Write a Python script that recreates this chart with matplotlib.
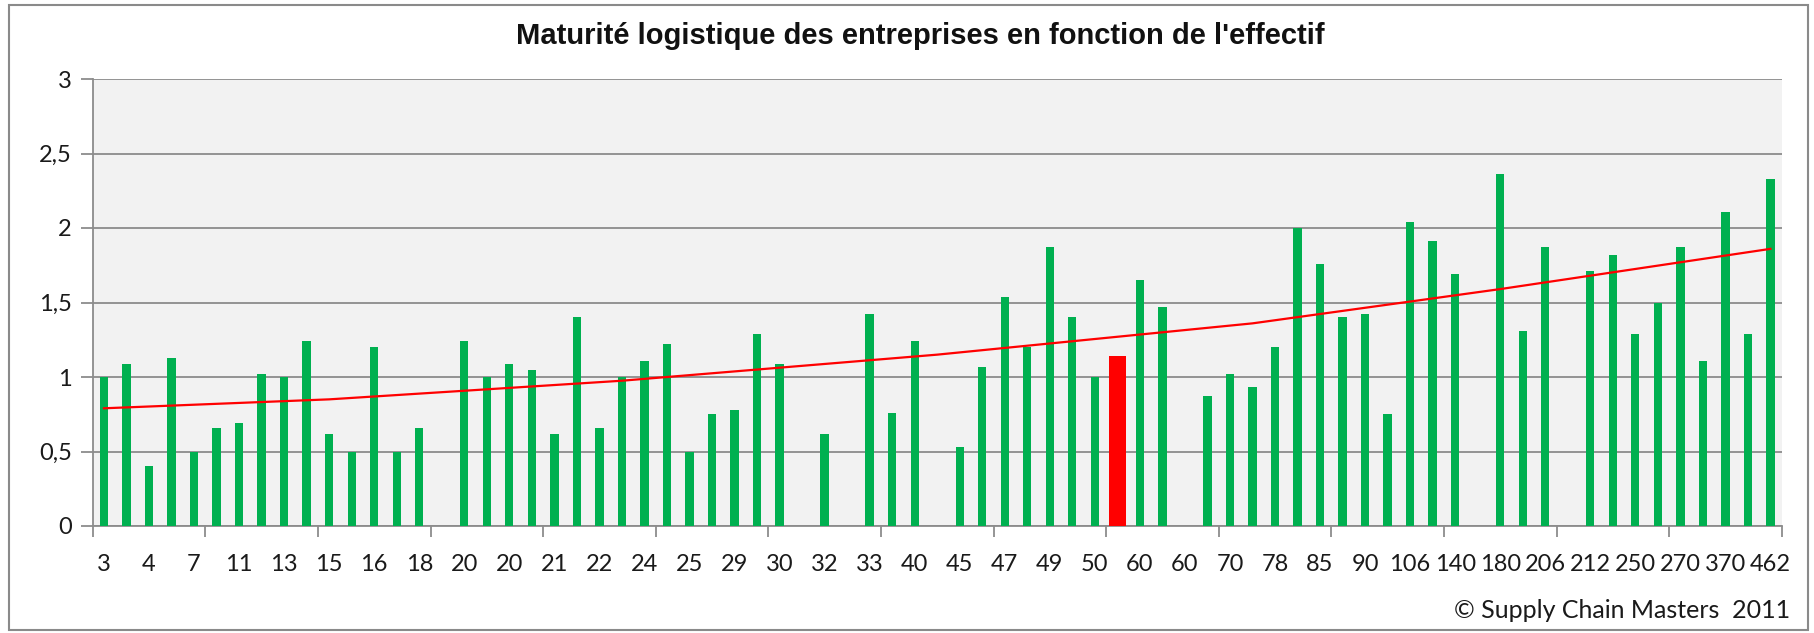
import numpy as np
import matplotlib
matplotlib.use("Agg")
import matplotlib.pyplot as plt
from matplotlib.patches import Rectangle
from matplotlib.ticker import FixedLocator, FuncFormatter

# ---------------- data ----------------
title = "Maturité logistique des entreprises en fonction de l'effectif"
credit = "© Supply Chain Masters  2011"

# label shown under every second category (effectif)
tick_labels = ["3", "4", "7", "11", "13", "15", "16", "18", "20", "20",
               "21", "22", "24", "25", "29", "30", "32", "33", "40", "45",
               "47", "49", "50", "60", "60", "70", "78", "85", "90", "106",
               "140", "180", "206", "212", "250", "270", "370", "462"]

# maturity score for each of the 75 companies (None = no bar)
maturity = [1.00, 1.09, 0.40, 1.13, 0.50, 0.66, 0.69, 1.02, 1.00, 1.24,
            0.62, 0.50, 1.20, 0.50, 0.66, None, 1.24, 1.00, 1.09, 1.05,
            0.62, 1.40, 0.66, 1.00, 1.11, 1.22, 0.50, 0.75, 0.78, 1.29,
            1.09, None, 0.62, None, 1.42, 0.76, 1.24, None, 0.53, 1.07,
            1.54, 1.20, 1.87, 1.40, 1.00, 1.14, 1.65, 1.47, None, 0.87,
            1.02, 0.93, 1.20, 2.00, 1.76, 1.40, 1.42, 0.75, 2.04, 1.91,
            1.69, None, 2.36, 1.31, 1.87, None, 1.71, 1.82, 1.29, 1.50,
            1.87, 1.11, 2.11, 1.29, 2.33]

highlight_index = 45          # company highlighted in red

# trend curve read at a few categories
trend_x = [0, 10, 23, 37, 51, 62, 74]
trend_y = [0.79, 0.85, 0.975, 1.15, 1.36, 1.59, 1.86]

y_ticks = [0, 0.5, 1, 1.5, 2, 2.5, 3]

# ---------------- figure ----------------
W, H = 1814, 633
fig = plt.figure(figsize=(W / 100, H / 100), dpi=100)
fig.patch.set_facecolor("white")

# chart-area border
fig.add_artist(Rectangle((9 / W, 1 - 630 / H), (1808 - 9) / W, (630 - 5) / H,
                         transform=fig.transFigure, fill=False,
                         edgecolor="#8a8a8a", linewidth=1.5))

left, right, top, bottom = 92.7, 1781.7, 79, 526
ax = fig.add_axes([left / W, 1 - bottom / H, (right - left) / W, (bottom - top) / H])
ax.set_facecolor("#F2F2F2")

n = len(maturity)
x = np.arange(n)
vals = np.array([np.nan if v is None else v for v in maturity], dtype=float)
mask = ~np.isnan(vals)

green_idx = [i for i in x if mask[i] and i != highlight_index]
ax.bar(green_idx, vals[green_idx], width=0.37, color="#00B050", zorder=3)
ax.bar([highlight_index], [vals[highlight_index]], width=0.76, color="#FF0000", zorder=3)

ax.plot(trend_x, trend_y, color="#FF0000", linewidth=1.6, zorder=4)

ax.set_xlim(-0.5, n - 0.5)
ax.set_ylim(0, 3)

# grid
ax.set_yticks(y_ticks)
ax.yaxis.set_major_formatter(FuncFormatter(lambda v, p: (f"{v:g}").replace(".", ",")))
ax.grid(axis="y", color="#8c8c8c", linewidth=1.3, zorder=1)
ax.set_axisbelow(True)

# x labels every 2 categories, tick marks every 5 categories at boundaries
ax.set_xticks(x[::2])
ax.set_xticklabels(tick_labels)
ax.xaxis.set_minor_locator(FixedLocator(np.arange(-0.5, n, 5)))
ax.tick_params(axis="x", which="major", length=0, pad=20)
ax.tick_params(axis="x", which="minor", length=8, width=1.3, color="#8c8c8c")
ax.tick_params(axis="y", length=9, width=1.3, color="#8c8c8c", pad=6)

lab_family = ["Lato", "DejaVu Sans"]
for t in ax.get_xticklabels() + ax.get_yticklabels():
    t.set_fontfamily(lab_family)
    t.set_fontsize(17)
    t.set_color("#1a1a1a")

for s in ["top", "right"]:
    ax.spines[s].set_visible(False)
for s in ["left", "bottom"]:
    ax.spines[s].set_color("#8c8c8c")
    ax.spines[s].set_linewidth(1.3)

fig.text(920 / W, 1 - 36 / H, title, ha="center", va="center",
         family=["Liberation Sans Narrow", "Liberation Sans", "DejaVu Sans"],
         fontweight="bold", fontsize=21, color="#111111")

fig.text(1790 / W, 1 - 611 / H, credit, ha="right", va="center",
         family=lab_family, fontsize=18, color="#1a1a1a")

fig.savefig("out.png", dpi=100)
